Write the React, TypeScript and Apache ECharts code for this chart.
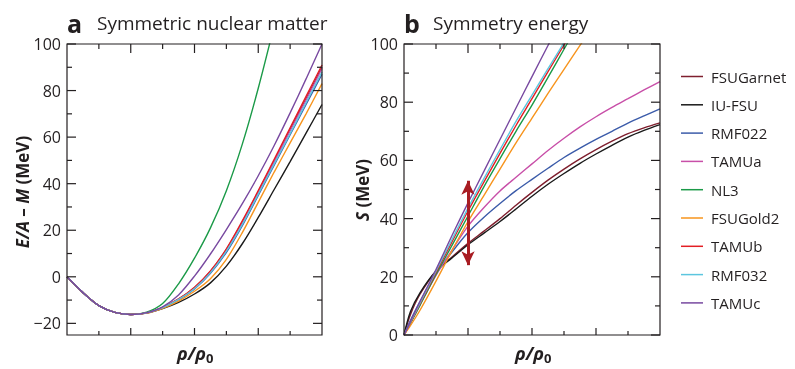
import React, { useEffect, useRef } from "react";
import * as echarts from "echarts";

// ---- names & colours ----
const models = ["FSUGarnet", "IU-FSU", "RMF022", "TAMUa", "NL3", "FSUGold2", "TAMUb", "RMF032", "TAMUc"];
const modelColors = ["#7f1f2e", "#1a1a1a", "#3b5ba9", "#c84fa8", "#1b9a48", "#f7941d", "#e31e24", "#5cc6df", "#7849a0"];

// ---- panel a: symmetric nuclear matter, E/A - M (MeV) vs rho/rho0 ----
const rhoA = [0, 0.25, 0.5, 0.75, 1, 1.25, 1.5, 1.75, 2, 2.25, 2.5, 2.75, 3, 3.25, 3.5, 3.75, 4];
const snmFSUGarnet = [0, -6.8, -12.4, -15.3, -16.2, -15.5, -13.2, -9.6, -4.7, 2.3, 11.7, 23.5, 36.5, 49.8, 63.2, 76.5, 90];
const snmIUFSU = [0, -6.8, -12.4, -15.3, -16.2, -15.6, -13.7, -11, -7.4, -2.6, 4.6, 14.2, 25.5, 37.5, 49.5, 61.7, 74];
const snmRMF022 = [0, -6.8, -12.4, -15.3, -16.2, -15.5, -13.3, -9.8, -5.2, 1.5, 10.5, 22, 35, 48, 61, 74, 87];
const snmTAMUa = [0, -6.8, -12.4, -15.3, -16.2, -15.5, -13.2, -9.6, -4.8, 2.2, 11.5, 23.2, 36.2, 49.5, 62.8, 76, 89.5];
const snmNL3 = [0, -6.8, -12.4, -15.3, -16.2, -15.2, -11.5, -3, 8, 21, 37, 57, 81, 108];
const snmFSUGold2 = [0, -6.8, -12.4, -15.3, -16.2, -15.6, -13.5, -10.4, -6.2, -0.8, 7.5, 19, 32, 45, 57.5, 70, 83];
const snmTAMUb = [0, -6.8, -12.4, -15.3, -16.2, -15.5, -13.1, -9.5, -4.5, 2.5, 12, 24, 37, 50.5, 64, 77.5, 91];
const snmRMF032 = [0, -6.8, -12.4, -15.3, -16.2, -15.5, -13.2, -9.7, -5, 1.8, 11, 22.5, 35.5, 48.5, 61.5, 74.8, 88];
const snmTAMUc = [0, -6.8, -12.4, -15.3, -16.2, -15.4, -12.9, -7.8, 0.3, 9.8, 20.3, 31.4, 43.4, 56.4, 70.4, 85, 100];
const snmSeries = [snmFSUGarnet, snmIUFSU, snmRMF022, snmTAMUa, snmNL3, snmFSUGold2, snmTAMUb, snmRMF032, snmTAMUc];

// ---- panel b: symmetry energy S (MeV) vs rho/rho0 ----
const rhoB = [0, 0.1, 0.25, 0.5, 0.75, 1, 1.25, 1.5, 1.75, 2, 2.25, 2.5, 2.75, 3, 3.25, 3.5, 3.75, 4];
const symFSUGarnet = [0, 7, 14, 21.8, 26.8, 31.5, 35.7, 40, 44.6, 49, 53.2, 57, 60.5, 63.7, 66.6, 69.2, 71.2, 72.9];
const symIUFSU = [0, 8, 14.5, 22, 26.5, 31, 35, 39, 43.3, 47.7, 51.8, 55.5, 59, 62.2, 65.2, 68, 70.3, 72.3];
const symRMF022 = [0, 5, 11.5, 21, 28.5, 35.2, 40.5, 45.2, 49.6, 53.5, 57.3, 61, 64.2, 67.2, 70, 72.8, 75.3, 77.7];
const symTAMUa = [0, 4.2, 10.5, 20.5, 29.2, 37.4, 43.8, 49.5, 54.2, 58.8, 63.4, 67.6, 71.5, 75, 78.2, 81.2, 84.2, 87.1];
const symNL3 = [0, 4, 10.2, 20.8, 30.8, 40.9, 51, 60.6, 70, 79, 88.5, 98.2, 108];
const symFSUGold2 = [0, 3.2, 8.5, 18.5, 29, 39, 48, 57, 66, 74.5, 83, 91.3, 99.5, 107.5];
const symTAMUb = [0, 4.2, 10.7, 21.5, 32, 42.6, 52.6, 62.4, 72, 81.2, 90.5, 99.7, 109];
const symRMF032 = [0, 4.4, 11, 22, 32.8, 43.6, 53.8, 63.7, 73.4, 82.4, 91.5, 100.5, 110];
const symTAMUc = [0, 4.6, 11.5, 22.5, 34.2, 45.4, 56.3, 67.2, 78, 88.8, 99.5, 110];
const symSeries = [symFSUGarnet, symIUFSU, symRMF022, symTAMUa, symNL3, symFSUGold2, symTAMUb, symRMF032, symTAMUc];

// ---- arrow at saturation density in panel b ----
const arrowRho = 1;
const arrowRange = [24, 53];

// ---- axis ranges and tick values ----
const rhoRange = [0, 4];
const snmRange = [-25, 100];
const symRange = [0, 100];
const rhoTicksMajor = [1, 2, 3];
const rhoTicksMinor = [0.5, 1.5, 2.5, 3.5];
const snmTicksMajor = [-20, 0, 20, 40, 60, 80, 100];
const snmTicksMinor = [-10, 10, 30, 50, 70, 90];
const symTicksMajor = [0, 20, 40, 60, 80, 100];
const symTicksMinor = [10, 30, 50, 70, 90];

const FONT = "Open Sans";
const INK = "#231f20";

function pairs(xs: number[], ys: number[]) {
  return ys.map((y, i) => [xs[i], y]);
}

export default function App() {
  const ref = useRef<HTMLDivElement>(null);
  useEffect(() => {
    if (!ref.current) return;
    const chart = echarts.init(ref.current, undefined, { renderer: "svg" });

    const series: any[] = [];
    models.forEach((name, i) => {
      series.push({
        name,
        type: "line",
        xAxisIndex: 0,
        yAxisIndex: 0,
        data: pairs(rhoA, snmSeries[i]),
        smooth: 0.3,
        symbol: "none",
        lineStyle: { color: modelColors[i], width: 1.4 },
        itemStyle: { color: modelColors[i] },
      });
    });
    models.forEach((name, i) => {
      series.push({
        name,
        type: "line",
        xAxisIndex: 1,
        yAxisIndex: 1,
        data: pairs(rhoB, symSeries[i]),
        smooth: 0.3,
        symbol: "none",
        lineStyle: { color: modelColors[i], width: 1.4 },
        itemStyle: { color: modelColors[i] },
      });
    });
    series.push({
      name: "arrow",
      type: "line",
      xAxisIndex: 1,
      yAxisIndex: 1,
      data: [
        [arrowRho, arrowRange[0]],
        [arrowRho, arrowRange[1]],
      ],
      symbol: "none",
      lineStyle: { width: 0, opacity: 0 },
      markLine: {
        silent: true,
        symbol: ["arrow", "arrow"],
        symbolSize: [10, 14],
        label: { show: false },
        lineStyle: { color: "#a81c22", width: 3, type: "solid" },
        data: [[{ coord: [arrowRho, arrowRange[0]] }, { coord: [arrowRho, arrowRange[1]] }]],
      },
    });

    const hiddenX = (gridIndex: number) => ({
      type: "value",
      gridIndex,
      min: rhoRange[0],
      max: rhoRange[1],
      axisLine: { show: false, onZero: false },
      axisTick: { show: false },
      axisLabel: { show: false },
      splitLine: { show: false },
    });

    chart.setOption({
      animation: false,
      grid: [
        { left: 67, top: 44, width: 255, height: 291 },
        { left: 404, top: 44, width: 256, height: 291 },
      ],
      xAxis: [hiddenX(0), hiddenX(1)],
      yAxis: [
        {
          type: "value",
          gridIndex: 0,
          min: snmRange[0],
          max: snmRange[1],
          axisLine: { show: false, onZero: false },
          axisTick: { show: false },
          splitLine: { show: false },
          axisLabel: {
            customValues: snmTicksMajor,
            fontSize: 16,
            fontFamily: FONT,
            color: INK,
            margin: 6,
            formatter: (v: number) => String(v).replace("-", "\u2212"),
          },
        },
        {
          type: "value",
          gridIndex: 1,
          min: symRange[0],
          max: symRange[1],
          interval: 20,
          axisLine: { show: false, onZero: false },
          axisTick: { show: false },
          splitLine: { show: false },
          axisLabel: { fontSize: 16, fontFamily: FONT, color: INK, margin: 6 },
        },
      ],
      legend: {
        data: models,
        orient: "vertical",
        left: 681,
        top: 69,
        padding: 0,
        icon: "path://M0 0H22V1.5H0Z",
        itemWidth: 22,
        itemHeight: 14,
        itemGap: 13.3,
        textStyle: { fontFamily: FONT, fontSize: 15, color: INK, padding: [0, 0, 0, 3] },
      },
      series,
    });

    // ---- frame and inward ticks, placed through the chart's own scales ----
    const st = { stroke: INK, lineWidth: 1.2, fill: null as any };
    const frameEls: any[] = [];
    const addPanel = (axisIdx: number, yRange: number[], yMaj: number[], yMin: number[]) => {
      const finder = { xAxisIndex: axisIdx, yAxisIndex: axisIdx };
      const px = (x: number, y: number) => chart.convertToPixel(finder, [x, y]) as number[];
      const tl = px(rhoRange[0], yRange[1]);
      const br = px(rhoRange[1], yRange[0]);
      frameEls.push({
        type: "rect",
        z: 100,
        silent: true,
        shape: { x: tl[0], y: tl[1], width: br[0] - tl[0], height: br[1] - tl[1] },
        style: { stroke: INK, lineWidth: 1.2, fill: "none" },
      });
      const xt = (v: number, major: boolean) => {
        const b = px(v, yRange[0]);
        const t = px(v, yRange[1]);
        const lb = major ? 7 : 4;
        const lt = major ? 9 : 5;
        frameEls.push({ type: "line", z: 100, silent: true, shape: { x1: b[0], y1: b[1], x2: b[0], y2: b[1] - lb }, style: st });
        frameEls.push({ type: "line", z: 100, silent: true, shape: { x1: t[0], y1: t[1], x2: t[0], y2: t[1] + lt }, style: st });
      };
      const yt = (v: number, major: boolean) => {
        const l = px(rhoRange[0], v);
        const r = px(rhoRange[1], v);
        const len = major ? 9 : 5;
        frameEls.push({ type: "line", z: 100, silent: true, shape: { x1: l[0], y1: l[1], x2: l[0] + len, y2: l[1] }, style: st });
        frameEls.push({ type: "line", z: 100, silent: true, shape: { x1: r[0], y1: r[1], x2: r[0] - len, y2: r[1] }, style: st });
      };
      rhoTicksMajor.forEach((v) => xt(v, true));
      rhoTicksMinor.forEach((v) => xt(v, false));
      yMaj.forEach((v) => yt(v, true));
      yMin.forEach((v) => yt(v, false));
    };
    addPanel(0, snmRange, snmTicksMajor, snmTicksMinor);
    addPanel(1, symRange, symTicksMajor, symTicksMinor);

    const yNameRich = {
      i: { fontFamily: FONT, fontWeight: "bold", fontStyle: "italic", fontSize: 17, color: INK },
      n: { fontFamily: FONT, fontWeight: "bold", fontSize: 17, color: INK },
    };

    const texts: any[] = [
      { type: "text", x: 67, y: 23, style: { fontFamily: FONT, fontWeight: "bold", fill: INK, text: "a", fontSize: 25, align: "left", verticalAlign: "middle" } },
      { type: "text", x: 97, y: 23, style: { fontFamily: FONT, fill: INK, text: "Symmetric nuclear matter", fontSize: 19, align: "left", verticalAlign: "middle" } },
      { type: "text", x: 404, y: 23, style: { fontFamily: FONT, fontWeight: "bold", fill: INK, text: "b", fontSize: 25, align: "left", verticalAlign: "middle" } },
      { type: "text", x: 433, y: 23, style: { fontFamily: FONT, fill: INK, text: "Symmetry energy", fontSize: 19, align: "left", verticalAlign: "middle" } },
      {
        type: "text",
        x: 22,
        y: 192,
        rotation: Math.PI / 2,
        style: { text: "{i|E/A}{n| – }{i|M}{n| (MeV)}", align: "center", verticalAlign: "middle", fill: INK, rich: yNameRich },
      },
      {
        type: "text",
        x: 362,
        y: 190,
        rotation: Math.PI / 2,
        style: { text: "{i|S}{n| (MeV)}", align: "center", verticalAlign: "middle", fill: INK, rich: yNameRich },
      },
      { type: "text", x: 206, y: 353, style: { fontFamily: FONT, fontWeight: "bold", fontStyle: "italic", fill: INK, text: "ρ/ρ", fontSize: 18, align: "right", verticalAlign: "middle" } },
      { type: "text", x: 206, y: 358, style: { fontFamily: FONT, fontWeight: "bold", fill: INK, text: "0", fontSize: 13, align: "left", verticalAlign: "middle" } },
      { type: "text", x: 544, y: 353, style: { fontFamily: FONT, fontWeight: "bold", fontStyle: "italic", fill: INK, text: "ρ/ρ", fontSize: 18, align: "right", verticalAlign: "middle" } },
      { type: "text", x: 544, y: 358, style: { fontFamily: FONT, fontWeight: "bold", fill: INK, text: "0", fontSize: 13, align: "left", verticalAlign: "middle" } },
    ];

    chart.setOption({ graphic: [...texts, ...frameEls] });

    return () => chart.dispose();
  }, []);

  return <div ref={ref} style={{ position: "fixed", left: 0, top: 0, width: 795, height: 369 }} />;
}
